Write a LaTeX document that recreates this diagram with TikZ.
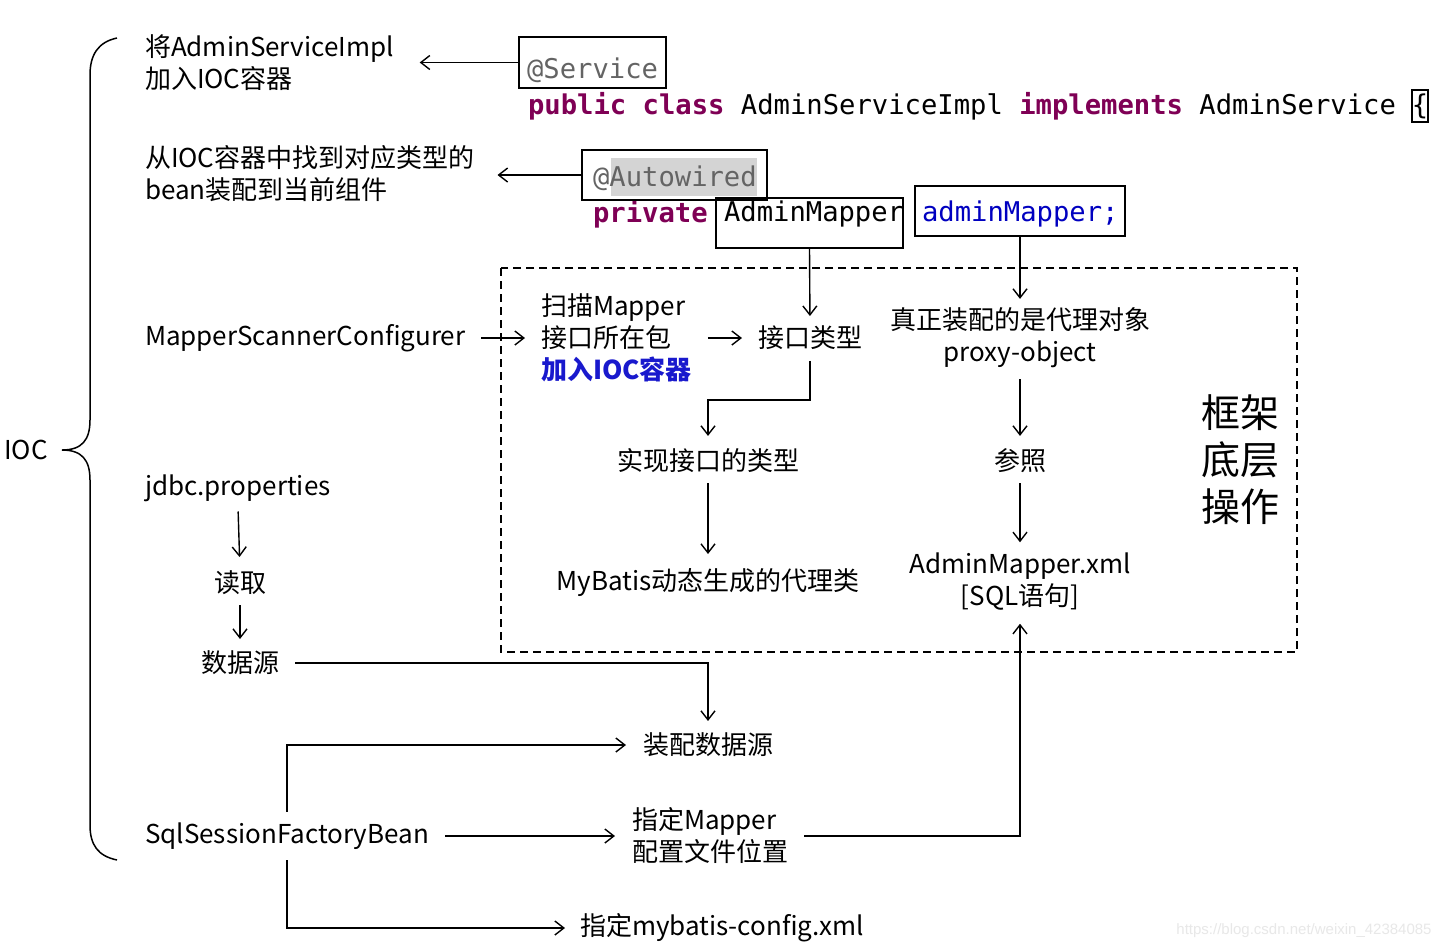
\documentclass[tikz,border=0pt]{standalone}
\usepackage{fontspec}
\setmainfont{Noto Sans CJK SC}
\newfontfamily\codefont{DejaVu Sans Mono}
\newfontfamily\urlfont{Liberation Sans}
\usetikzlibrary{arrows.meta}
\definecolor{kw}{RGB}{127,0,85}
\definecolor{anno}{RGB}{100,100,100}
\definecolor{hl}{RGB}{212,212,212}
\definecolor{fieldblue}{RGB}{0,0,192}
\definecolor{iocblue}{RGB}{25,25,205}
\newcommand{\kwd}[1]{{\bfseries\color{kw}#1}}
\begin{document}
\begin{tikzpicture}[x=0.5pt,y=-0.5pt,
  txt/.style={inner sep=0pt, outer sep=0pt, font=\fontsize{13}{16}\selectfont},
  code/.style={inner sep=0pt, outer sep=0pt, font=\codefont\fontsize{13.6}{16}\selectfont},
  cbox/.style={draw, line width=0.75pt, inner sep=0pt, outer sep=0pt},
  arr/.style={draw, line width=0.7pt, -{Straight Barb[length=4.5pt,width=7pt]}},
  frame/.style={draw, line width=0.7pt, dash pattern=on 4pt off 2.5pt},
  ]
\fill[white] (0,0) rectangle (1442,950);
\useasboundingbox (0,0) rectangle (1442,950);

% left brace
\node[txt] (ioc) at (26,450) {IOC};
\draw[line width=0.75pt] (117,38) .. controls (98,42) and (90,55) .. (90,75) -- (90,420)
  .. controls (90,440) and (82,450) .. (62,450) .. controls (82,450) and (90,460) .. (90,480)
  -- (90,825) .. controls (90,845) and (98,856) .. (117,860);

% left texts
\node[txt, anchor=west, align=left] (t1) at (145,63) {将AdminServiceImpl\\加入IOC容器};
\node[txt, anchor=west, align=left] (t2) at (145,174) {从IOC容器中找到对应类型的\\bean装配到当前组件};
\node[txt, anchor=west] (msc) at (145,338) {MapperScannerConfigurer};
\node[txt, anchor=west] (jdbc) at (145,488) {jdbc.properties};
\node[txt] (rd) at (240,583) {读取};
\node[txt] (ds) at (240,663) {数据源};
\node[txt, anchor=west] (sql) at (145,836) {SqlSessionFactoryBean};

% code
\fill[hl] (611,158) rectangle (757,196);
\node[code, anchor=west] (svtxt) at (527,70) {\color{anno}@Service};
\node[code, anchor=west] (cls) at (528,106) {\kwd{public} \kwd{class} AdminServiceImpl \kwd{implements} AdminService};
\node[code, cbox, minimum width=8pt, minimum height=16pt] (brbox) at (1420,106) {\{};
\node[code, anchor=west] (awtxt) at (593,178) {\color{anno}@Autowired};
\node[code, anchor=west] (pv) at (593,214) {\kwd{private}};
\node[code, anchor=west] (amtxt) at (724,214) {AdminMapper};
\node[code, anchor=west] (fdtxt) at (922,214) {\color{fieldblue}adminMapper;};
\node[cbox, minimum width=73.5pt, minimum height=25.5pt] (svbox) at (592.5,62.5) {};
\node[cbox, minimum width=92.5pt, minimum height=25pt] (awbox) at (674.5,175) {};
\node[cbox, minimum width=93.5pt, minimum height=25pt] (ambox) at (809.5,223) {};
\node[cbox, minimum width=105pt, minimum height=25pt] (fdbox) at (1020,211) {};

% framework box
\draw[frame] (501,268) rectangle (1297,652);
\node[txt, anchor=west, align=left] (scan) at (541,338) {扫描Mapper\\接口所在包\\{\bfseries\color{iocblue}加入IOC容器}};
\node[txt] (jk) at (810,338) {接口类型};
\node[txt] (impl) at (708,461) {实现接口的类型};
\node[txt] (pc) at (708,583) {MyBatis动态生成的代理类};
\node[txt, align=center] (real) at (1020,338) {真正装配的是代理对象\\proxy-object};
\node[txt] (ref) at (1020,461) {参照};
\node[txt, align=center] (xml) at (1020,582) {AdminMapper.xml\\{}{[}SQL语句{]}};
\node[inner sep=0pt, align=center, font=\fontsize{19.5}{23.5}\selectfont] (fw) at (1240,460) {框架\\底层\\操作};

% bottom
\node[txt] (asm) at (708,745) {装配数据源};
\node[txt, anchor=west, align=left] (mp) at (632,836) {指定Mapper\\配置文件位置};
\node[txt, anchor=west] (cfg) at (580,928) {指定mybatis-config.xml};
\node[inner sep=0pt, anchor=east, font=\urlfont\fontsize{7.5}{9}\selectfont, text=black!9] (url) at (1432,931) {https://blog.csdn.net/weixin\_42384085};

% connectors
\coordinate (k1) at (760,400);
\draw[arr, shorten >=13pt] (svbox.west) -- (svbox.west -| t1.east);
\draw[arr, shorten >=11.5pt] (awbox.west) -- (awbox.west -| t2.east);
\draw[arr, shorten <=8pt, shorten >=8pt] (msc.east) -- (scan.west |- msc.east);
\draw[arr, shorten <=8pt, shorten >=8pt] (scan.east) -- (jk.west);
\draw[arr, shorten >=5pt] (ambox.south) -- (jk.north);
\draw[arr, shorten <=5.5pt, shorten >=6.5pt] (jk.south) |- (k1) -| (impl.north);
\draw[arr, shorten <=5pt, shorten >=7.5pt] (impl.south) -- (pc.north);
\draw[arr, shorten >=4.5pt] (fdbox.south) -- (real.north);
\draw[arr, shorten <=5.5pt, shorten >=6.5pt] (real.south) -- (ref.north);
\draw[arr, shorten <=5pt, shorten >=5.5pt] (ref.south) -- (xml.north);
\draw[arr, shorten <=5pt, shorten >=7pt] (jdbc.south) -- (rd.north);
\draw[arr, shorten <=5pt, shorten >=6pt] (rd.south) -- (ds.north);
\draw[arr, shorten <=8pt, shorten >=6pt] (ds.east) -| (asm.north);
\draw[arr, shorten <=5.5pt, shorten >=8.5pt] (sql.north) |- (asm.west);
\draw[arr, shorten <=8pt, shorten >=8.5pt] (sql.east) -- (mp.west);
\draw[arr, shorten <=8pt, shorten >=6.5pt] (mp.east) -| (xml.south);
\draw[arr, shorten <=5.5pt, shorten >=7.5pt] (sql.south) |- (cfg.west);
\end{tikzpicture}
\end{document}
